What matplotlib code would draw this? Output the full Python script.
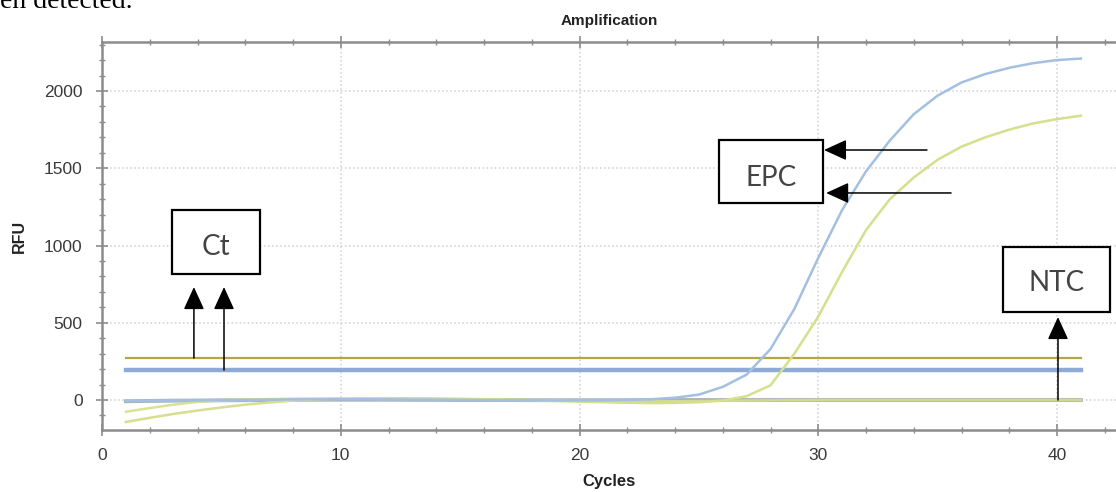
import matplotlib
matplotlib.use('Agg')
from matplotlib import pyplot as plt
from matplotlib.patches import Rectangle
from matplotlib.ticker import MultipleLocator

# cycle numbers 1..41
cycles = list(range(1, 42))

# EPC blue channel (amplifies)
blue_epc = [-5, -4, -3, -2, -1, 0, 2, 4, 5, 5, 5, 4, 3, 2, 1, 0, -1, -2, -3, -3,
            -2, 0, 5, 15, 35, 85, 165, 330, 590, 920, 1230, 1480, 1680, 1850, 1970,
            2055, 2110, 2150, 2180, 2200, 2210]
# EPC yellow channel (amplifies later)
yellow_epc = [-142, -115, -90, -68, -48, -30, -16, -4, 4, 9, 11, 12, 11, 10, 8, 5,
              2, -2, -6, -10, -14, -18, -20, -19, -14, -3, 25, 95, 300, 540, 830,
              1100, 1300, 1440, 1555, 1640, 1700, 1750, 1790, 1818, 1840]
# NTC yellow channel (flat)
yellow_ntc = [-76, -52, -30, -12, -2, 3, 6, 8, 9, 9, 8, 7, 6, 5, 4, 3, 2, 0, -2, -4,
              -6, -7, -8, -8, -7, -5, -3, -2, -1, 0, 0, 0, 0, 0, 0, 0, 0, 0, 0, 0, 0]
# NTC blue channel (flat)
blue_ntc = [-8, -6, -4, -3, -2, -1, 0, 1, 2, 2, 2, 2, 1, 1, 0, 0, 0, -1, -1, -1, -1,
            -1, 0, 0, 0, 0, 0, 0, 0, 0, 0, 0, 0, 0, 0, 0, 0, 0, 0, 0, 0]

# threshold lines
thr_x = [1, 41]
thr_yellow = 270
thr_blue = 197

xticks = [0, 10, 20, 30, 40]
yticks = [0, 500, 1000, 1500, 2000]

# colours
c_blue = '#a3c0e2'
c_yellow = '#d5df8c'
c_gray = '#aab3b6'
c_thr_yellow = '#b3a548'
c_thr_blue = '#8eabd8'
c_spine = '#8c8c8c'
c_text = '#3a3a3a'

plt.rcParams['font.family'] = ['Liberation Sans', 'DejaVu Sans']

fig = plt.figure(figsize=(11.16, 4.92), dpi=100)
fig.patch.set_facecolor('white')
ax = fig.add_axes([102 / 1116, 62 / 492, 1014 / 1116, 388 / 492])

# thresholds
ax.plot(thr_x, [thr_yellow, thr_yellow], color=c_thr_yellow, linewidth=1.6)
ax.plot(thr_x, [thr_blue, thr_blue], color=c_thr_blue, linewidth=3.2)

# curves
ax.plot(cycles, blue_ntc, color=c_gray, linewidth=2.8)
ax.plot(cycles, yellow_ntc, color=c_yellow, linewidth=1.8, alpha=0.9)
ax.plot(cycles, yellow_epc, color=c_yellow, linewidth=1.8)
ax.plot(cycles, blue_epc, color=c_blue, linewidth=1.8)

ax.set_xlim(0, 42.47)
ax.set_ylim(-194, 2317)
ax.set_xticks(xticks)
ax.set_yticks(yticks)
ax.xaxis.set_minor_locator(MultipleLocator(2))
ax.yaxis.set_minor_locator(MultipleLocator(100))
ax.grid(which='major', color='#cfcfcf', linestyle=':', linewidth=1.1)
ax.set_axisbelow(True)

ax.spines['right'].set_visible(False)
for s in ['left', 'bottom', 'top']:
    ax.spines[s].set_color(c_spine)
    ax.spines[s].set_linewidth(1.8)
ax.tick_params(which='major', direction='inout', length=8, width=1.2, color=c_spine,
               labelsize=12.5, labelcolor=c_text, top=True)
ax.tick_params(which='minor', direction='inout', length=5, width=1.0, color=c_spine, top=True)
ax.tick_params(axis='x', which='major', pad=9)
ax.tick_params(axis='y', which='major', pad=10)

ax.set_xlabel('Cycles', fontsize=12, fontweight='bold', color='#222222', labelpad=8)
ax.set_ylabel('RFU', fontsize=11.5, fontweight='bold', color='#222222')
ax.yaxis.set_label_coords(-0.074, 0.5)
ax.set_title('Amplification', fontsize=11, fontweight='bold', color='#222222', pad=12)

# annotation boxes
box_font = dict(family=['Lato', 'DejaVu Sans'], fontsize=20, color='#444444')
for (x0, y0, x1, y1, label, ty) in [(2.93, 815, 6.62, 1230, 'Ct', 990),
                                    (25.84, 1275, 30.2, 1683, 'EPC', 1440),
                                    (37.74, 570, 42.2, 990, 'NTC', 755)]:
    ax.add_patch(Rectangle((x0, y0), x1 - x0, y1 - y0, fill=True, facecolor='white',
                           edgecolor='black', linewidth=1.6, zorder=5))
    ax.text((x0 + x1) / 2, ty, label, ha='center', va='center', zorder=6, **box_font)

arrow = dict(arrowstyle='-|>,head_length=0.7,head_width=0.32', mutation_scale=20,
             color='black', linewidth=1.1, shrinkA=0, shrinkB=0)
for (xt, yt, xs, ys) in [(3.85, 731, 3.85, 272), (5.11, 731, 5.11, 194),
                         (30.24, 1618, 34.55, 1618), (30.33, 1340, 35.56, 1340),
                         (40.04, 537, 40.04, 0)]:
    ax.annotate('', xy=(xt, yt), xytext=(xs, ys), arrowprops=arrow, zorder=7)

# surrounding document text, clipped at the top as in the source page
fig.text(0.0, 1 - 8 / 492, 'en detected.', family=['Liberation Serif', 'DejaVu Serif'],
         fontsize=20, color='black', ha='left', va='baseline')

fig.savefig('out.png', dpi=100)
